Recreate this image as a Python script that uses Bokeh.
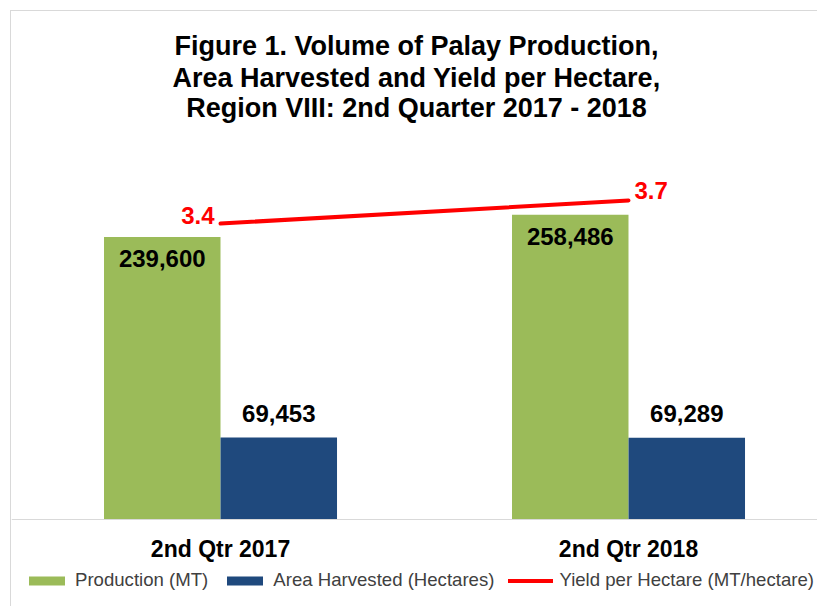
from bokeh.plotting import figure
from bokeh.models import Range1d, Legend, LegendItem, ColumnDataSource, Span
from bokeh.embed import file_html
from bokeh.resources import INLINE
from bokeh.core.properties import value

# ---------------- data ----------------
categories = ["2nd Qtr 2017", "2nd Qtr 2018"]
production = [239600, 258486]
area_harvested = [69453, 69289]
yield_per_ha = [3.4, 3.7]
series_names = ["Production (MT)", "Area Harvested (Hectares)", "Yield per Hectare (MT/hectare)"]
title_lines = [
    "Figure 1. Volume of Palay Production,",
    "Area Harvested and Yield per Hectare,",
    "Region VIII: 2nd Quarter 2017 - 2018",
]

# ---------------- style / layout ----------------
FONT = "Liberation Sans"
GREEN = "#9BBB59"
BLUE = "#1F497D"
RED = "#FF0000"
FRAME_W, FRAME_H = 806, 592
FRAME_TOP_PAGE = 12
BASE_PAGE = 519                      # page row of the zero line
BAR_W = 0.2855
OFF = 0.1428
X_START, X_END = -0.5123, 1.4632
K1 = 507 / 430000                    # px per unit, primary axis
K2 = 76.7                            # px per unit, secondary axis
Y_END = (BASE_PAGE - FRAME_TOP_PAGE) / K1
Y_START = -(FRAME_TOP_PAGE + FRAME_H - BASE_PAGE) / K1
Y2_ZERO_SHIFT = -0.459               # secondary value sitting at the zero line
Y2_END = Y2_ZERO_SHIFT + (BASE_PAGE - FRAME_TOP_PAGE) / K2
Y2_START = Y2_ZERO_SHIFT - (FRAME_TOP_PAGE + FRAME_H - BASE_PAGE) / K2


def y_at(page_y):
    """primary-scale data y for a page pixel row (for annotation placement)"""
    return (BASE_PAGE - page_y) / K1


xs = list(range(len(categories)))

p = figure(
    frame_width=FRAME_W, frame_height=FRAME_H,
    x_range=Range1d(X_START, X_END), y_range=Range1d(Y_START, Y_END),
    x_axis_location=None, y_axis_location=None,
    output_backend="svg", toolbar_location=None,
    min_border_left=0, min_border_right=0, min_border_top=1, min_border_bottom=2,
    outline_line_color=None, background_fill_color="white", border_fill_color="white",
)
p.extra_y_ranges = {"y2": Range1d(Y2_START, Y2_END)}
p.styles = {"margin-left": "10px", "margin-top": "10px",
            "border-left": "1px solid #D9D9D9", "border-top": "1px solid #D9D9D9"}
p.xgrid.visible = False
p.ygrid.visible = False

# zero line (category axis line)
p.add_layout(Span(location=0, dimension="width", line_color="#D9D9D9", line_width=1))

# bars
src_g = ColumnDataSource(dict(x=[v - OFF for v in xs], top=production,
                              label=[f"{v:,}" for v in production]))
src_b = ColumnDataSource(dict(x=[v + OFF for v in xs], top=area_harvested,
                              label=[f"{v:,}" for v in area_harvested]))
r_g = p.vbar(x="x", top="top", bottom=0, width=BAR_W, source=src_g,
             fill_color=GREEN, line_color=None)
r_b = p.vbar(x="x", top="top", bottom=0, width=BAR_W, source=src_b,
             fill_color=BLUE, line_color=None)

# yield line
r_l = p.line(x=xs, y=yield_per_ha, y_range_name="y2", line_color=RED,
             line_width=4, line_cap="round")

# bar labels
p.text(x="x", y="top", text="label", source=src_g, text_font=value(FONT),
       text_font_style="bold", text_font_size="24px", text_color="black",
       text_align="center", text_baseline="middle", y_offset=22)
p.text(x="x", y="top", text="label", source=src_b, text_font=value(FONT),
       text_font_style="bold", text_font_size="24px", text_color="black",
       text_align="center", text_baseline="middle", y_offset=-24)

# yield labels
p.text(x=[xs[0]], y=[yield_per_ha[0]], text=[f"{yield_per_ha[0]:.1f}"], y_range_name="y2",
       text_font=value(FONT), text_font_style="bold", text_font_size="24px",
       text_color=RED, text_align="right", text_baseline="middle",
       x_offset=-6, y_offset=-8)
p.text(x=[xs[1]], y=[yield_per_ha[1]], text=[f"{yield_per_ha[1]:.1f}"], y_range_name="y2",
       text_font=value(FONT), text_font_style="bold", text_font_size="24px",
       text_color=RED, text_align="left", text_baseline="middle",
       x_offset=6, y_offset=-10)

# category labels under the zero line
p.text(x=xs, y=[0] * len(xs), text=categories, text_font=value(FONT),
       text_font_style="bold", text_font_size="23px", text_color="black",
       text_align="center", text_baseline="middle", y_offset=29)

# title (three lines)
title_x = (416 - 220) / 408
for line, py in zip(title_lines, [45, 77, 107]):
    p.text(x=[title_x], y=[y_at(py)], text=[line], text_font=value(FONT),
           text_font_style="bold", text_font_size="27px", text_color="black",
           text_align="center", text_baseline="middle")

# legend (inside the frame, under the category labels)
legend = Legend(
    items=[LegendItem(label=series_names[0], renderers=[r_g]),
           LegendItem(label=series_names[1], renderers=[r_b]),
           LegendItem(label=series_names[2], renderers=[r_l])],
    orientation="horizontal", location=(13, 13),
    glyph_width=45, glyph_height=11, label_standoff=6, spacing=14,
    padding=4, margin=0, border_line_color=None, background_fill_alpha=0,
    label_text_font=FONT, label_text_font_size="18.6px", label_text_color="#404040",
)
p.add_layout(legend)

open("out.html", "w").write(file_html(p, INLINE))
